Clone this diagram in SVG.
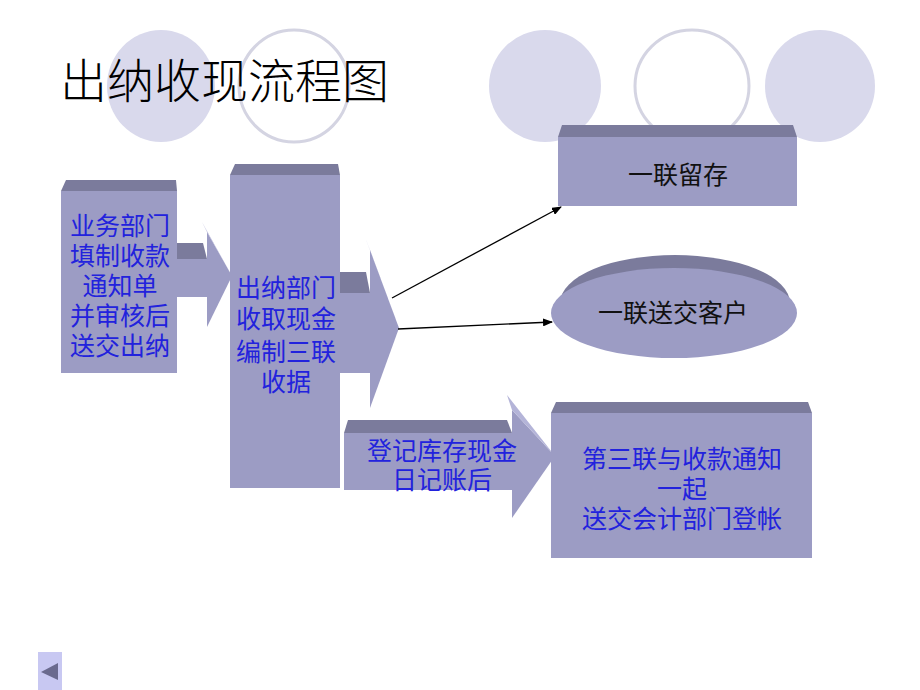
<svg xmlns="http://www.w3.org/2000/svg" width="920" height="690" viewBox="0 0 920 690">
<defs>
<style>
.deco{fill:#d9d9ec}
.ring{fill:none;stroke:#d4d4e2;stroke-width:3}
.face{fill:#9c9cc4}
.top{fill:#7b7b9c}
.side{fill:#b4b4d8}
.bt{font-family:"Liberation Serif","Noto Sans CJK SC","Noto Sans CJK JP",serif;font-size:25px;fill:#2222dd;text-anchor:middle}
.kt{font-family:"Liberation Serif","Noto Sans CJK SC","Noto Sans CJK JP",serif;font-size:25px;fill:#111;text-anchor:middle}
.conn{stroke:#000;stroke-width:1.3;fill:none}
</style>
<marker id="ah" markerWidth="10" markerHeight="8" refX="9" refY="4" orient="auto" markerUnits="userSpaceOnUse">
<path d="M0,0 L10,4 L0,8 Z" fill="#000"/>
</marker>
</defs>
<rect width="920" height="690" fill="#fff"/>
<g id="decor">
<ellipse class="deco" cx="161" cy="86" rx="54" ry="56"/>
<ellipse class="ring" cx="294" cy="86" rx="55" ry="56"/>
<ellipse class="deco" cx="545" cy="86" rx="56" ry="56"/>
<ellipse class="ring" cx="692" cy="86" rx="57" ry="56"/>
<ellipse class="deco" cx="820" cy="86" rx="55" ry="56"/>
</g>
<text x="60" y="98" font-family="Liberation Serif,Noto Sans CJK SC,serif" font-size="47" font-weight="300" fill="#000">出纳收现流程图</text>
<g id="arrow1">
<polygon class="top" points="177,243 203,243 207,259 177,259"/>
<rect class="face" x="177" y="259" width="30" height="38"/>
<polygon class="face" points="207,232 232,276 207,327"/>
<polygon class="side" points="202,222 232,276 207,232"/>
</g>
<g id="arrow2">
<polygon class="top" points="340,272 366,272 370,293 340,293"/>
<rect class="face" x="340" y="293" width="30" height="80"/>
<polygon class="face" points="370,250 399,328 370,408"/>
<polygon class="side" points="365,237 399,328 370,250"/>
</g>
<g id="n1">
<polygon class="top" points="66,180 176,180 177,191 61,191"/>
<rect class="face" x="61" y="191" width="116" height="182"/>
<text class="bt"><tspan x="120" y="235">业务部门</tspan><tspan x="120" y="265">填制收款</tspan><tspan x="120" y="295">通知单</tspan><tspan x="120" y="325">并审核后</tspan><tspan x="120" y="355">送交出纳</tspan></text>
</g>
<g id="n2">
<polygon class="top" points="235,164 338,164 340,175 230,175"/>
<rect class="face" x="230" y="175" width="110" height="313"/>
<text class="bt"><tspan x="286" y="297">出纳部门</tspan><tspan x="286" y="328">收取现金</tspan><tspan x="286" y="361">编制三联</tspan><tspan x="286" y="391">收据</tspan></text>
</g>
<g id="n3">
<polygon class="top" points="562,125 793,125 797,137 558,137"/>
<rect class="face" x="558" y="137" width="239" height="69"/>
<text class="kt" x="678" y="184">一联留存</text>
</g>
<g id="n4">
<ellipse class="top" cx="675" cy="303" rx="115" ry="48"/>
<ellipse class="face" cx="674" cy="313" rx="123" ry="45"/>
<text class="kt" x="673" y="322">一联送交客户</text>
</g>
<g id="n5">
<polygon class="top" points="348,420 507,420 512,433 344,433"/>
<rect class="face" x="344" y="433" width="168" height="57"/>
<polygon class="face" points="512,410 555,456 512,518"/>
<polygon class="side" points="507,395 555,456 512,410"/>
<text class="bt"><tspan x="442" y="460">登记库存现金</tspan><tspan x="442" y="489">日记账后</tspan></text>
</g>
<g id="n6">
<polygon class="top" points="556,402 808,402 812,413 551,413"/>
<rect class="face" x="551" y="413" width="261" height="145"/>
<text class="bt"><tspan x="682" y="468">第三联与收款通知</tspan><tspan x="682" y="498">一起</tspan><tspan x="682" y="528">送交会计部门登帐</tspan></text>
</g>
<g id="connectors">
<line class="conn" x1="392" y1="298" x2="561" y2="207" marker-end="url(#ah)"/>
<line class="conn" x1="398" y1="329" x2="552" y2="322" marker-end="url(#ah)"/>
</g>
<g id="nav">
<rect x="38" y="652" width="24" height="38" fill="#c8c8f2"/>
<polygon points="41,672 58,663 58,680" fill="#6a6a8e"/>
</g>
</svg>
